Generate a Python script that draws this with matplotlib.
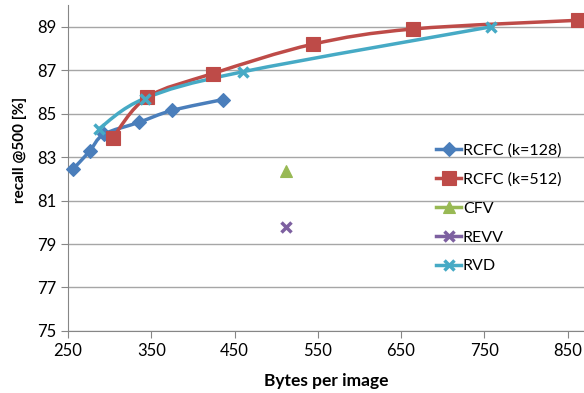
import numpy as np
import matplotlib
matplotlib.use("Agg")
import matplotlib.pyplot as plt
from matplotlib.path import Path
from matplotlib.patches import PathPatch
from matplotlib.lines import Line2D

plt.rcParams['font.family'] = ['Lato', 'DejaVu Sans']

# values
rcfc128_x = [256, 276, 293, 335, 375, 436]
rcfc128_y = [82.45, 83.27, 84.05, 84.6, 85.15, 85.65]
rcfc512_x = [304, 345, 424, 544, 664, 862]
rcfc512_y = [83.9, 85.75, 86.85, 88.2, 88.9, 89.3]
cfv_x = [512]
cfv_y = [82.35]
revv_x = [512]
revv_y = [79.8]
rvd_x = [287, 342, 460, 758]
rvd_y = [84.3, 85.7, 86.93, 89.0]

labels = ['RCFC (k=128)', 'RCFC (k=512)', 'CFV', 'REVV', 'RVD']
colors = ['#4A7EBB', '#BE4B48', '#98B954', '#7D60A0', '#46AAC5']
markers = ['D', 's', '^', 'x', 'x']
msizes = [7, 9.5, 8, 7, 7.5]
xticks = [250, 350, 450, 550, 650, 750, 850]
yticks = [75, 77, 79, 81, 83, 85, 87, 89]


def smooth_path(x, y, t=1 / 6):
    p = np.column_stack([x, y]).astype(float)
    verts = [p[0]]
    codes = [Path.MOVETO]
    n = len(p)
    for i in range(n - 1):
        p0 = p[i - 1] if i > 0 else p[i]
        p3 = p[i + 2] if i + 2 < n else p[i + 1]
        c1 = p[i] + (p[i + 1] - p0) * t
        c2 = p[i + 1] - (p3 - p[i]) * t
        verts += [c1, c2, p[i + 1]]
        codes += [Path.CURVE4] * 3
    return Path(verts, codes)


fig = plt.figure(figsize=(5.84, 3.93), dpi=100)
ax = fig.add_axes([0.1164, 0.158, 0.884, 0.829])

series = [(rcfc128_x, rcfc128_y), (rcfc512_x, rcfc512_y), (cfv_x, cfv_y),
          (revv_x, revv_y), (rvd_x, rvd_y)]
handles = []
for (xs, ys), lab, c, m, ms in zip(series, labels, colors, markers, msizes):
    if len(xs) > 1:
        ax.add_patch(PathPatch(smooth_path(xs, ys), fill=False, edgecolor=c,
                               lw=2.5, zorder=3, capstyle='round'))
    mew = 2.5 if m == 'x' else 0.8
    ax.plot(xs, ys, linestyle='none', marker=m, ms=ms, color=c,
            markeredgecolor=c, mew=mew, zorder=4, clip_on=False)
    handles.append(Line2D([], [], color=c, lw=2.5, marker=m, ms=ms,
                          mew=mew, markeredgecolor=c))

ax.set_xlim(250, 870)
ax.set_ylim(75, 90)
ax.set_xticks(xticks)
ax.set_yticks(yticks)
ax.tick_params(labelsize=12, colors='#868686', labelcolor='black', length=5)
ax.grid(axis='y', color='#A6A6A6', lw=1)
ax.set_axisbelow(True)
for s in ['top', 'right']:
    ax.spines[s].set_visible(False)
for s in ['left', 'bottom']:
    ax.spines[s].set_color('#868686')

ax.set_xlabel('Bytes per image', fontsize=12.5, fontweight='bold')
ax.xaxis.set_label_coords(0.5, -0.13)
ax.set_ylabel('recall @500 [%]', fontsize=11, fontweight='bold')
ax.yaxis.set_label_coords(-0.08, 0.555)

ax.legend(handles, labels, loc='upper left', bbox_to_anchor=(0.70, 0.595),
          frameon=False, fontsize=11.5, handlelength=1.6, handletextpad=0.1,
          labelspacing=0.92, borderaxespad=0)

fig.savefig('out.png', dpi=100)
